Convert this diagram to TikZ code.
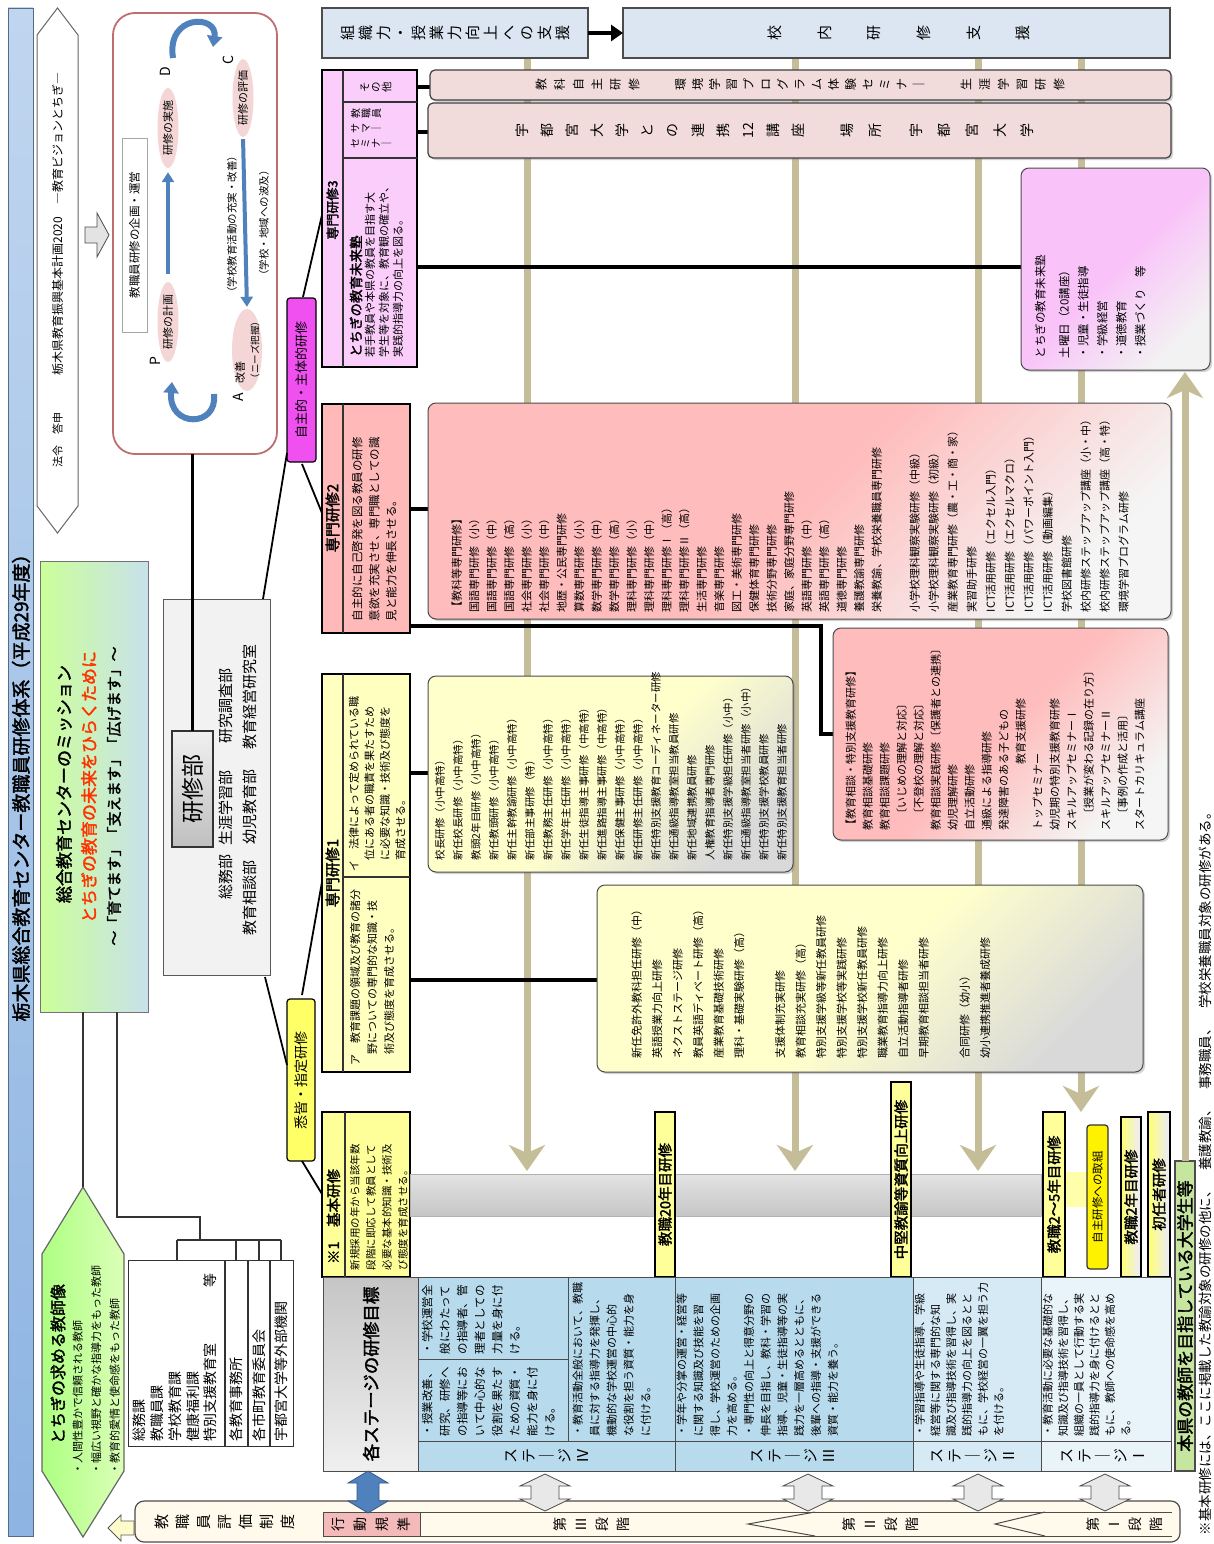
\documentclass[tikz,border=0pt]{standalone}
\usepackage{fontspec}
\setmainfont{Noto Sans CJK JP}[AutoFakeBold=2]
\usetikzlibrary{arrows.meta,shapes.geometric,shadows}
\ExplSyntaxOn
\NewDocumentCommand\vstack{m}{\seq_clear:N \l_tmpa_seq \tl_map_inline:nn {#1} {\seq_put_right:Nn \l_tmpa_seq {##1}} \seq_use:Nn \l_tmpa_seq {\\}}
\ExplSyntaxOff
\newcommand\fs[2]{\fontsize{#1}{#2}\selectfont}
\newcommand\bx[6]{\node[anchor=north west,inner sep=0pt,outer sep=0pt,minimum width={#4-#2},minimum height={#5-#3},#6] (#1) at (#2,-#3) {};}
\definecolor{tanc}{RGB}{196,189,151}
\definecolor{ttl}{RGB}{141,180,226}
\definecolor{pdcar}{RGB}{190,110,110}
\definecolor{ell}{RGB}{244,214,214}
\definecolor{bluarr}{RGB}{79,129,189}
\definecolor{mgreen}{RGB}{204,255,153}
\definecolor{lgray}{RGB}{242,242,242}
\definecolor{magl}{RGB}{240,80,240}
\definecolor{yell}{RGB}{255,255,102}
\definecolor{p3}{RGB}{250,205,250}
\definecolor{p2}{RGB}{255,185,185}
\definecolor{p1}{RGB}{255,255,192}
\definecolor{kihon}{RGB}{255,255,153}
\definecolor{pbar}{RGB}{242,220,219}
\definecolor{sbox}{RGB}{220,230,242}
\definecolor{ylist}{RGB}{255,255,204}
\definecolor{plist}{RGB}{255,188,188}
\definecolor{purp}{RGB}{249,195,249}
\definecolor{st4}{RGB}{183,219,236}
\definecolor{st2}{RGB}{214,234,246}
\definecolor{st1}{RGB}{232,243,250}
\definecolor{band}{RGB}{255,250,235}
\definecolor{kodo}{RGB}{244,185,185}
\definecolor{sgreen}{RGB}{198,230,160}
\definecolor{mred}{RGB}{255,51,0}
\begin{document}
\begin{tikzpicture}[x=1pt,y=1pt,
  tanarr/.style={draw=tanc,line width=7pt,-{Stealth[width=36pt,length=26pt,inset=8pt]}},
  conn/.style={draw=black,line width=1.8pt},
  thk/.style={draw=black,line width=4pt},
  thn/.style={draw=black!80,line width=1.2pt},
  lbl/.style={inner sep=0pt,outer sep=0pt},
  lst/.style={anchor=north west,align=left,inner sep=0pt,outer sep=0pt},
  vt/.style={align=center,inner sep=0pt,outer sep=0pt},
  sh/.style={drop shadow={shadow xshift=2pt,shadow yshift=-2pt,opacity=0.35}},
  ms/.style={draw=black,line width=1.8pt,fill=kihon},
  stg/.style={draw=black!70,line width=1pt},
  elp/.style={ellipse,fill=ell,inner sep=0pt,font=\fs{11}{11}},
  barst/.style={rounded corners=5pt,fill=pbar,draw=black!75,line width=1.2pt,sh},
]
\useasboundingbox (0,-1544) rectangle (1213,0);
\fill[white] (0,-1544) rectangle (1213,0);
\begin{scope}[shift={(0,-1544)},rotate=90,transform shape]

% ---------- tan arrows (behind) ----------
\coordinate (ta1s) at (1486,-527); \coordinate (ta1e) at (373,-527);
\coordinate (ta2s) at (1486,-795); \coordinate (ta2e) at (373,-795);
\coordinate (ta3s) at (1486,-978); \coordinate (ta3e) at (373,-978);
\coordinate (ta4s) at (1486,-1081); \coordinate (ta4e) at (432,-1081);
\draw[tanarr] (ta1s) -- (ta1e);
\draw[tanarr] (ta2s) -- (ta2e);
\draw[tanarr] (ta3s) -- (ta3e);
\draw[tanarr] (ta4s) -- (ta4e);

% ---------- title ----------
\bx{titlebar}{8}{8}{1536}{33}{top color=ttl!55!white,bottom color=ttl,draw=ttl!60!black,line width=0.8pt}
\node[lbl,font=\fs{19}{19}\bfseries] (title) at (761,-21) {栃木県総合教育センター教職員研修体系（平成29年度）};

% ---------- banner ----------
\draw[fill=white,draw=black!60,line width=1pt] (1011,-57.5) -- (1038,-37) -- (1509,-37) -- (1536,-57.5) -- (1509,-78) -- (1038,-78) -- cycle;
\node[lbl,font=\fs{11}{11}] (bn1) at (1104,-57.5) {法令　答申};
\node[lbl,font=\fs{12}{12}] (bn2) at (1320,-57.5) {栃木県教育振興基本計画2020　―教育ビジョンとちぎ―};
\draw[fill=gray!22,draw=gray!60!black,line width=0.8pt] (1301,-85) -- (1317,-85) -- (1317,-97) -- (1331,-97) -- (1309,-109) -- (1287,-97) -- (1301,-97) -- cycle;

% ---------- PDCA ----------
\bx{pdca}{1090}{113}{1531}{277}{draw=pdcar,line width=1.8pt,rounded corners=22pt,fill=white}
\bx{kikaku}{1212}{122}{1406}{147}{draw=gray!70,fill=white,line width=0.8pt}
\node[lbl,font=\fs{11.5}{12}] (kikakut) at (1309,-134.5) {教職員研修の企画・運営};
\node[elp,minimum width=80pt,minimum height=21pt] (eP) at (1222,-168) {研修の計画};
\node[elp,minimum width=80pt,minimum height=21pt] (eD) at (1416,-168) {研修の実施};
\node[elp,minimum width=76pt,minimum height=21pt] (eC) at (1446,-243) {研修の評価};
\node[elp,minimum width=82pt,minimum height=30pt] (eA) at (1194,-247) {};
\node[lbl,font=\fs{11}{11}] (eAt1) at (1172,-240) {改善};
\node[lbl,font=\fs{9.5}{10}] (eAt2) at (1194,-255) {（ニーズ把握）};
\node[lbl,font=\fs{14}{14}] (lP) at (1183,-155) {P};
\node[lbl,font=\fs{14}{14}] (lD) at (1472,-165) {D};
\node[lbl,font=\fs{14}{14}] (lC) at (1484,-228) {C};
\node[lbl,font=\fs{14}{14}] (lA) at (1147,-238) {A};
\draw[bluarr,line width=4pt,-{Triangle[width=12pt,length=10pt]},shorten <=8pt,shorten >=4pt] (eP.east) -- (eD.west);
\draw[bluarr,line width=4pt,-{Triangle[width=12pt,length=10pt]},shorten <=2pt,shorten >=2pt] (eC.west) -- (eA.east);
\node[lbl,font=\fs{10.5}{11}] (kaizen1) at (1320,-232) {（学校教育活動の充実・改善）};
\node[lbl,font=\fs{10.5}{11}] (hakyu) at (1321,-264) {（学校・地域への波及）};
\coordinate (cdc1) at (1486,-173); \coordinate (cdc2) at (1497,-213);
\draw[bluarr,line width=6pt,-{Triangle[width=15pt,length=11pt]}] (cdc1) .. controls (1530,-166) and (1530,-218) .. (cdc2);
\coordinate (cap1) at (1150,-214); \coordinate (cap2) at (1162,-172);
\draw[bluarr,line width=6pt,-{Triangle[width=15pt,length=11pt]}] (cap1) .. controls (1116,-218) and (1116,-168) .. (cap2);

% ---------- mission ----------
\bx{mission}{532}{40}{983}{148}{left color=mgreen,middle color=mgreen,right color={rgb,255:red,200;green,225;blue,235},draw=black!55,line width=1pt}
\node[lbl,font=\fs{17}{17}\bfseries] (m1) at (760,-64) {総合教育センターのミッション};
\node[lbl,font=\fs{17}{17}\bfseries,text=mred] (m2) at (757,-89) {とちぎの教育の未来をひらくために};
\node[lbl,font=\fs{15}{15}\bfseries] (m3) at (748,-114) {～「育てます」「支えます」「広げます」～};

% ---------- hexagon ----------
\draw[left color=mgreen!85!green,right color=mgreen!70!white,draw=black!60,line width=1.2pt] (7,-83) -- (73,-42) -- (290,-42) -- (357,-83) -- (290,-124) -- (73,-124) -- cycle;
\node[lbl,font=\fs{16}{16}\bfseries] (hex1) at (180,-58) {とちぎの求める教師像};
\node[lst,font=\fs{11}{18.5}] (hex2) at (70,-72.5) {・人間性豊かで信頼される教師\\・幅広い視野と確かな指導力をもった教師\\・教育的愛情と使命感をもった教師};

% ---------- org box ----------
\bx{org}{98}{128}{284}{293}{draw=black!80,line width=1pt,fill=white}
\draw[thn] (98,-225) -- (284,-225);
\draw[thn] (98,-248) -- (284,-248);
\draw[thn] (98,-270) -- (284,-270);
\node[lst,font=\fs{14}{17.8}] (org1) at (103,-133) {総務課\\教職員課\\学校教育課\\健康福利課\\特別支援教育室\hspace{56pt}等};
\node[lbl,anchor=west,font=\fs{14}{14}] (org2) at (103,-236.5) {各教育事務所};
\node[lbl,anchor=west,font=\fs{14}{14}] (org3) at (103,-259) {各市町教育委員会};
\node[lbl,anchor=west,font=\fs{14}{14}] (org4) at (103,-281.5) {宇都宮大学等外部機関};
\coordinate (mA) at (532,-83); \coordinate (hextip) at (357,-83);
\draw[thn] (mA) -- (hextip);
\coordinate (mB) at (532,-117); \coordinate (bkA) at (327,-117); \coordinate (bkB) at (327,-200); \coordinate (bkC) at (304,-200);
\draw[thn] (mB) -- (bkA) -- (bkB) -- (bkC);
\coordinate (bk1) at (304,-177); \coordinate (bk4) at (304,-281);
\draw[thn] (bk1) -- (bk4);
\coordinate (ob1) at (284,-177); \coordinate (bk2) at (304,-236); \coordinate (ob2) at (284,-236);
\coordinate (bk3) at (304,-259); \coordinate (ob3) at (284,-259); \coordinate (ob4) at (284,-281);
\draw[thn] (bk1) -- (ob1); \draw[thn] (bk2) -- (ob2); \draw[thn] (bk3) -- (ob3); \draw[thn] (bk4) -- (ob4);

% ---------- kenshubu ----------
\bx{kbu}{569}{163}{945}{270}{fill=lgray,draw=gray!70!black,line width=1pt}
\bx{kbuin}{697}{172}{813}{213}{top color=gray!12,bottom color=gray!50,draw=black!80,line width=1.2pt}
\node[lbl,font=\fs{23}{23}] (kbut) at (755,-192.5) {研修部};
\node[lbl,anchor=west,font=\fs{15}{15}] (kbul1) at (645,-226) {総務部\hspace{9pt}生涯学習部\hspace{27pt}研究調査部};
\node[lbl,anchor=west,font=\fs{15}{15}] (kbul2) at (609,-250) {教育相談部\hspace{16pt}幼児教育部\hspace{20pt}教育経営研究室};
\coordinate (pdcaS) at (1090,-192.5);
\draw[line width=2.5pt] (kbuin.east) -- (pdcaS);

% ---------- category labels ----------
\node[lbl,fill=magl,draw=black,line width=1.2pt,rounded corners=3pt,minimum width=164pt,minimum height=29pt,font=\fs{13}{13}] (jishu) at (1164,-301.5) {自主的・主体的研修};
\node[lbl,fill=yell,draw=black,line width=1.2pt,rounded corners=3pt,minimum width=162pt,minimum height=28pt,font=\fs{14}{14}] (shikkai) at (464,-301) {悉皆・指定研修};
\coordinate (kbuA) at (945,-263); \coordinate (jsA) at (1091,-287);
\draw[conn] (kbuA) -- (jsA);
\coordinate (kbuB) at (567,-265); \coordinate (skA) at (479,-287);
\draw[conn] (kbuB) -- (skA);
\coordinate (jsB) at (1247,-303); \coordinate (s3A) at (1329,-322);
\draw[conn] (jsB) -- (s3A);
\coordinate (jsC) at (1080,-302); \coordinate (s2A) at (1031,-322);
\draw[conn] (jsC) -- (s2A);
\coordinate (skB) at (549,-302); \coordinate (s1A) at (662,-322);
\draw[conn] (skB) -- (s1A);
\coordinate (skC) at (383,-302); \coordinate (khA) at (350,-322);
\draw[conn] (skC) -- (khA);

% ---------- senmon 3 ----------
\coordinate (c3a) at (1457,-417); \coordinate (c3b) at (1457,-430);
\coordinate (c3c) at (1412,-417); \coordinate (c3d) at (1412,-428);
\coordinate (c3e) at (1277,-417); \coordinate (c3f) at (1277,-1021);
\draw[thk] (c3a) -- (c3b); \draw[thk] (c3c) -- (c3d); \draw[thk] (c3e) -- (c3f);
\bx{s3}{1177}{322}{1474}{417}{fill=p3,draw=black,line width=1.8pt}
\draw[thn] (1177,-343) -- (1474,-343);
\draw[thn] (1386,-343) -- (1386,-417);
\draw[thn] (1442,-343) -- (1442,-417);
\node[lbl,font=\fs{13}{13}\bfseries] (s3h) at (1334,-332.5) {専門研修3};
\node[lbl,anchor=west,font=\fs{13.5}{14}\bfseries] (s3t1) at (1187,-356) {とちぎの教育未来塾};
\node[lst,font=\fs{11}{14}] (s3t2) at (1187,-365) {若手教員や本県の教員を目指す大\\学生等を対象に、教育観の確立や、\\実践的指導力の向上を図る。};
\node[vt,anchor=north,font=\fs{10}{10.5}] (s3sm1) at (1430,-351) {\vstack{教職員}};
\node[vt,anchor=north,font=\fs{10}{10.5}] (s3sm2) at (1415,-351) {\vstack{サマ｜}};
\node[vt,anchor=north,font=\fs{10}{10.5}] (s3sm3) at (1400,-351) {\vstack{セミナ｜}};
\node[vt,font=\fs{10.5}{11}] (s3so) at (1457,-376) {\vstack{その他}};

\bx{barA}{1444}{430}{1474}{1171}{barst}
\node[vt,font=\fs{12}{18.6}] (bA1) at (1459,-587.5) {\vstack{教科自主研修}};
\node[vt,font=\fs{12}{17}] (bA2) at (1459,-800) {\vstack{環境学習プログラム体験セミナ｜}};
\node[vt,font=\fs{12}{18.6}] (bA3) at (1459,-1012.5) {\vstack{生涯学習研修}};
\bx{barB}{1386}{428}{1441}{1171}{barst}
\node[vt,font=\fs{14}{25.1}] (bB1) at (1413.5,-660) {\vstack{宇都宮大学との連携{12}講座}};
\node[vt,font=\fs{14}{28}] (bB2) at (1413.5,-861) {\vstack{場所}};
\node[vt,font=\fs{14}{27.7}] (bB3) at (1413.5,-972) {\vstack{宇都宮大学}};

\bx{mirai}{1174}{1021}{1376}{1210}{rounded corners=8pt,top color=purp,bottom color=white!90!gray,middle color=purp,shading angle=45,draw=black!70,line width=1pt,sh}
\node[lst,font=\fs{11.5}{19}] (miraiT) at (1186,-1035) {とちぎの教育未来塾\\[5pt]土曜日（20講座）\\・児童・生徒指導\\・学級経営\\・道徳教育\\・授業づくり　等};

% ---------- support boxes ----------
\bx{soshiki}{1486}{322}{1536}{588}{fill=sbox,draw=black!70,line width=1.2pt}
\node[vt,font=\fs{15}{17.9}] (soshikiT) at (1511,-455) {\vstack{組織力・授業力向上への支援}};
\bx{konai}{1486}{623}{1536}{1170}{fill=sbox,draw=black!70,line width=1.2pt}
\node[vt,font=\fs{15}{49.6}] (konaiT) at (1511,-899) {\vstack{校内研修支援}};
\draw[line width=4pt,-{Triangle[width=16pt,length=12pt]}] (soshiki.south) -- (konai.north);

% ---------- senmon 2 ----------
\coordinate (c2a) at (1035,-410); \coordinate (c2b) at (1035,-428);
\draw[thk] (c2a) -- (c2b);
\coordinate (c2c) at (918,-410); \coordinate (c2d) at (918,-821); \coordinate (c2e) at (810,-821); \coordinate (c2f) at (810,-833);
\draw[thk] (c2c) -- (c2d) -- (c2e) -- (c2f);
\bx{s2}{911}{322}{1140}{410}{fill=p2,draw=black,line width=1.8pt}
\draw[thn] (911,-343) -- (1140,-343);
\node[lbl,font=\fs{15}{15}\bfseries] (s2h) at (1026,-332.5) {専門研修2};
\node[lst,font=\fs{11.5}{17}] (s2t) at (923,-352) {自主的に自己啓発を図る教員の研修\\意欲を充実させ、専門職としての識\\見と能力を伸長させる。};

\bx{pbig}{925}{428}{1141}{1171}{rounded corners=8pt,top color=plist,bottom color=white!92!gray,middle color=plist,shading angle=45,draw=black!70,line width=1pt,sh}
\node[lst,font=\fs{11}{17.5}] (pbigT1) at (932,-451.5) {【教科等専門研修】\\国語専門研修（小）\\国語専門研修（中）\\国語専門研修（高）\\社会専門研修（小）\\社会専門研修（中）\\地歴・公民専門研修\\算数専門研修（小）\\数学専門研修（中）\\数学専門研修（高）\\理科専門研修（小）\\理科専門研修（中）\\理科専門研修Ⅰ（高）\\理科専門研修Ⅱ（高）\\生活専門研修\\音楽専門研修\\図工・美術専門研修\\保健体育専門研修\\技術分野専門研修\\家庭、家庭分野専門研修\\英語専門研修（中）\\英語専門研修（高）\\道徳専門研修\\養護教諭専門研修\\栄養教諭、学校栄養職員専門研修};
\node[lst,font=\fs{11}{19}] (pbigT2) at (932,-909.5) {小学校理科観察実験研修（中級）\\小学校理科観察実験研修（初級）\\産業教育専門研修（農・工・商・家）\\実習助手研修\\ICT活用研修（エクセル入門）\\ICT活用研修（エクセルマクロ）\\ICT活用研修（パワーポイント入門）\\ICT活用研修（動画編集）\\学校図書館研修\\校内研修ステップアップ講座（小・中）\\校内研修ステップアップ講座（高・特）\\環境学習プログラム研修};

\bx{pd}{704}{833}{916}{1168}{rounded corners=8pt,top color=plist,bottom color=white!92!gray,middle color=plist,shading angle=45,draw=black!70,line width=1pt,sh}
\node[lst,font=\fs{11}{17}] (pdT) at (714,-845.5) {【教育相談・特別支援教育研修】\\教育相談基礎研修\\教育相談課題研修\\　〔いじめの理解と対応〕\\　〔不登校の理解と対応〕\\教育相談実践研修〔保護者との連携〕\\幼児理解研修\\自立活動研修\\通級による指導研修\\発達障害のある子どもの\\\hspace{66pt}教育支援研修\\トップセミナー\\幼児期の特別支援教育研修\\スキルアップセミナーⅠ\\　〔授業が変わる記録の在り方〕\\スキルアップセミナーⅡ\\　〔事例の作成と活用〕\\スタートカリキュラム講座};

% ---------- senmon 1 ----------
\coordinate (c1a) at (771,-410); \coordinate (c1b) at (771,-428);
\coordinate (c1c) at (564,-410); \coordinate (c1d) at (564,-597);
\draw[thk] (c1a) -- (c1b); \draw[thk] (c1c) -- (c1d);
\bx{s1}{472}{322}{870}{410}{fill=p1,draw=black,line width=1.8pt}
\draw[thn] (472,-343) -- (870,-343);
\draw[thn] (667,-343) -- (667,-410);
\node[lbl,font=\fs{15}{15}\bfseries] (s1h) at (671,-332.5) {専門研修1};
\node[lst,font=\fs{11}{17}] (s1a) at (479,-350) {ア　教育課題の領域及び教育の諸分\\　野についての専門的な知識・技\\　術及び態度を育成させる。};
\node[lst,font=\fs{11}{15.5}] (s1b) at (673,-349) {イ　法律によって定められている職\\　位にある者の職責を果たすため\\　に必要な知識・技術及び態度を\\　育成させる。};

\bx{y1}{672}{428}{868}{793}{rounded corners=8pt,top color=ylist,bottom color=gray!30,middle color=ylist,shading angle=45,draw=black!70,line width=1pt,sh}
\node[lst,font=\fs{10.5}{18}] (y1T) at (684,-435) {校長研修（小中高特）\\新任校長研修（小中高特）\\教頭2年目研修（小中高特）\\新任教頭研修（小中高特）\\新任主幹教諭研修（小中高特）\\新任部主事研修（特）\\新任教務主任研修（小中高特）\\新任学年主任研修（小中高特）\\新任生徒指導主事研修（中高特）\\新任進路指導主事研修（中高特）\\新任保健主事研修（小中高特）\\新任研修主任研修（小中高特）\\新任特別支援教育コーディネーター研修\\新任通級指導教室担当教員研修\\新任地域連携教員研修\\人権教育指導者専門研修\\新任特別支援学級担任研修（小中）\\新任通級指導教室担当者研修（小中）\\新任特別支援学校教員研修\\新任特別支援教育担当者研修};

\bx{y2}{472}{597}{659}{1143}{rounded corners=8pt,top color=ylist,bottom color=gray!30,middle color=ylist,shading angle=45,draw=black!70,line width=1pt,sh}
\node[lst,font=\fs{11}{20.5}] (y2T) at (486,-631.5) {新任免許外教科担任研修（中）\\英語授業力向上研修\\ネクストステージ研修\\教員英語ディベート研修（高）\\産業教育基礎技術研修\\理科・基礎実験研修（高）\\[20.5pt]支援体制充実研修\\教育相談充実研修（高）\\特別支援学級等新任教員研修\\特別支援学校等実践研修\\特別支援学校新任教員研修\\職業教育指導力向上研修\\自立活動指導者研修\\早期教育相談担当者研修\\[20.5pt]合同研修（幼小）\\幼小連携推進者養成研修};

% ---------- kihon ----------
\bx{kihon}{267}{322}{432}{410}{fill=kihon,draw=black,line width=1.8pt}
\draw[thn] (267,-345) -- (432,-345);
\node[lbl,anchor=west,font=\fs{14.5}{15}\bfseries] (kihonh) at (280,-333.5) {※1　基本研修};
\node[lst,font=\fs{10.5}{16}] (kihonT) at (274,-350) {新規採用の年から当該年数\\段階に即応して教員として\\必要な基本的知識・技術及\\び態度を育成させる。};

% ---------- timeline ----------
\bx{gbar}{328}{410}{370}{1041}{top color=gray!22,bottom color=gray!45,draw=gray!60,line width=0.8pt}
\fill[fill={rgb,255:red,255;green,255;blue,170}] (337,-1065) rectangle (372,-1087);
\bx{m20}{267}{655}{432}{675}{ms}
\node[lbl,font=\fs{14.5}{15}\bfseries] (m20T) at (349.5,-665) {教職20年目研修};
\bx{mchu}{267}{891}{462}{911}{ms}
\node[lbl,font=\fs{14.5}{15}\bfseries] (mchuT) at (364.5,-901) {中堅教諭等資質向上研修};
\bx{m25}{267}{1043}{432}{1065}{ms}
\node[lbl,font=\fs{14.5}{15}\bfseries] (m25T) at (349.5,-1054) {教職2～5年目研修};
\bx{mjs}{275}{1087}{419}{1108}{draw=black!80,line width=1.2pt,fill=yellow,rounded corners=3pt}
\node[lbl,font=\fs{11.5}{12}] (mjsT) at (347,-1097.5) {自主研修への取組};
\bx{m2}{267}{1121}{427}{1141}{ms,left color=yellow!55!white,right color=blue!8!white}
\node[lbl,font=\fs{14.5}{15}\bfseries] (m2T) at (347,-1131) {教職2年目研修};
\bx{mshonin}{267}{1148}{432}{1170}{ms,left color=yellow!55!white,right color=blue!8!white}
\node[lbl,font=\fs{14.5}{15}\bfseries] (mshoninT) at (349.5,-1159) {初任者研修};

% ---------- stages ----------
\bx{stgh}{73}{323}{267}{418}{top color=gray!45,bottom color=gray!12,draw=black!70,line width=1pt}
\node[lbl,font=\fs{17.5}{18}\bfseries] (stghT) at (170,-371) {各ステージの研修目標};
\bx{st4}{73}{418}{267}{675}{stg,fill=st4}
\draw[stg] (103,-418) -- (103,-675);
\draw[stg] (103,-568) -- (267,-568);
\draw[stg] (185,-418) -- (185,-568);
\node[vt,font=\fs{15}{18}] (st4L) at (88,-547) {\vstack{ステ｜ジⅣ}};
\node[lst,font=\fs{11.5}{17.5}] (st4a) at (190,-422) {・学校運営全\\般にわたって\\の指導者、管\\理者としての\\力量を身に付\\ける。};
\node[lst,font=\fs{11.5}{17.5}] (st4b) at (108,-422) {・授業改善、\\研究、研修へ\\の指導等にお\\いて中心的な\\役割を果たす\\ための資質・\\能力を身に付\\ける。};
\node[lst,font=\fs{11}{17}] (st4c) at (108,-572.5) {・教育活動全般において、教職\\員に対する指導力を発揮し、\\機動的な学校運営の中心的\\な役割を担う資質・能力を身\\に付ける。};
\bx{st3}{73}{675}{267}{913}{stg,fill=st4}
\draw[stg] (103,-675) -- (103,-913);
\node[vt,font=\fs{15}{18}] (st3L) at (88,-793) {\vstack{ステ｜ジⅢ}};
\node[lst,font=\fs{11}{16.8}] (st3a) at (108,-676.5) {・学年や分掌の運営・経営等\\に関する知識及び技能を習\\得し、学校運営のための企画\\力を高める。\\・専門性の向上と得意分野の\\伸長を目指し、教科・学習の\\指導、児童・生徒指導等の実\\践力を一層高めるとともに、\\後輩への指導・支援ができる\\資質・能力を養う。};
\bx{st2}{73}{913}{267}{1041}{stg,fill=st2}
\draw[stg] (103,-913) -- (103,-1041);
\node[vt,font=\fs{15}{18}] (st2L) at (88,-973) {\vstack{ステ｜ジⅡ}};
\node[lst,font=\fs{11}{15.8}] (st2a) at (108,-914.5) {・学習指導や生徒指導、学級\\経営等に関する専門的な知\\識及び指導技術を習得し、実\\践的指導力の向上を図るとと\\もに、学校経営の一翼を担う力\\を付ける。};
\bx{st1}{73}{1041}{267}{1171}{stg,fill=st1}
\draw[stg] (103,-1041) -- (103,-1171);
\node[vt,font=\fs{15}{18}] (st1L) at (88,-1103) {\vstack{ステ｜ジⅠ}};
\node[lst,font=\fs{11}{15.6}] (st1a) at (108,-1042.5) {・教育活動に必要な基礎的な\\知識及び指導技術を習得し、\\組織の一員として行動する実\\践的指導力を身に付けるとと\\もに、教師への使命感を高め\\る。};

% ---------- band ----------
\bx{band}{2}{135}{43}{1180}{rounded corners=9pt,fill=band,draw=black!70,line width=1.2pt}
\draw[line width=1pt,black!70] (32,-323) -- (32,-1172);
\draw[line width=1pt,black!70] (8,-323) -- (8,-1172);
\node[vt,font=\fs{15}{21}] (hyoka) at (22,-225) {\vstack{教職員評価制度}};
\bx{kodo}{8}{323}{32}{420}{fill=kodo,draw=black!70,line width=1pt}
\node[vt,font=\fs{14}{22}] (kodoT) at (20,-371.5) {\vstack{行動規準}};
\node[vt,font=\fs{14}{21}] (dan3) at (20,-592) {\vstack{第Ⅲ段階}};
\node[vt,font=\fs{14}{21}] (dan2) at (20,-881) {\vstack{第Ⅱ段階}};
\node[vt,font=\fs{14}{21}] (dan1) at (20,-1125) {\vstack{第Ⅰ段階}};
\draw[line width=1pt,black!70] (32,-815) -- (20,-748) -- (8,-815);
\draw[line width=1pt,black!70] (32,-1045) -- (20,-995) -- (8,-1045);
\draw[fill=yellow!20,draw=gray!70!black,line width=0.8pt] (16,-108) -- (29,-121) -- (23,-121) -- (23,-134) -- (9,-134) -- (9,-121) -- (3,-121) -- cycle;

% double arrows
\draw[fill=bluarr,draw=bluarr!70!black,line width=0.8pt] (31,-368) -- (43,-348) -- (43,-357) -- (61,-357) -- (61,-348) -- (73,-368) -- (61,-388) -- (61,-379) -- (43,-379) -- (43,-388) -- cycle;
\foreach \c in {545,808,978,1105}{
  \draw[fill=gray!18,draw=gray!60!black,line width=0.8pt] (33,-\c) -- (45,-\c+25) -- (45,-\c+14) -- (58,-\c+14) -- (58,-\c+25) -- (70,-\c) -- (58,-\c-25) -- (58,-\c-14) -- (45,-\c-14) -- (45,-\c-25) -- cycle;
}

% ---------- students ----------
\bx{gak}{73}{1175}{383}{1195}{fill=sgreen,draw=black!70,line width=1.2pt}
\node[lbl,font=\fs{17}{17}\bfseries] (gakT) at (228,-1185) {本県の教師を目指している大学生等};
\coordinate (ta5e) at (1172,-1185);
\draw[tanarr] (gak.east) -- (ta5e);

\node[lbl,anchor=west,font=\fs{13.5}{14}] (foot) at (9,-1205) {※基本研修には、ここに掲載した教諭対象の研修の他に、　養護教諭、　事務職員、　学校栄養職員対象の研修がある。};
\end{scope}
\end{tikzpicture}
\end{document}
